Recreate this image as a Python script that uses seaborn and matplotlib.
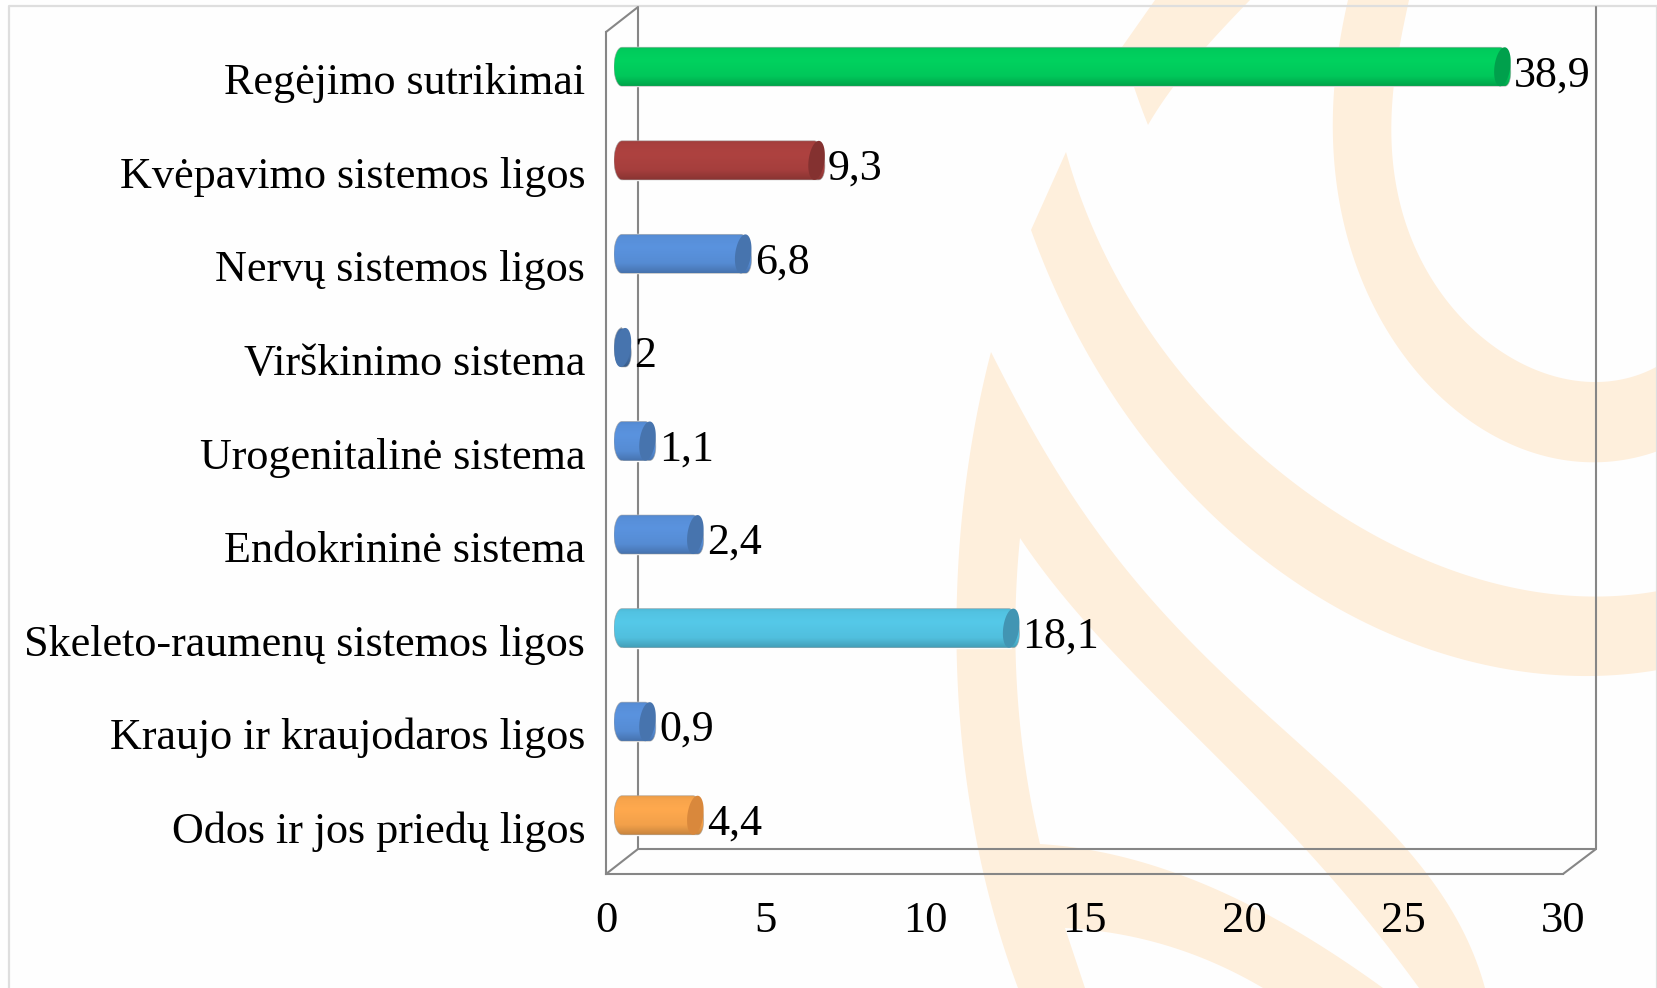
"""Horizontal cylinder-style bars over a pale watermark (Lithuanian categories)."""
import numpy as np
import pandas as pd
import matplotlib
matplotlib.use('Agg')
import matplotlib.pyplot as plt
import seaborn as sns
from matplotlib.patches import Polygon

# bar lengths as drawn on the axis, printed labels as they stand in the picture
categories = ['Regėjimo sutrikimai', 'Kvėpavimo sistemos ligos', 'Nervų sistemos ligos',
              'Virškinimo sistema', 'Urogenitalinė sistema', 'Endokrininė sistema',
              'Skeleto-raumenų sistemos ligos', 'Kraujo ir kraujodaros ligos',
              'Odos ir jos priedų ligos']
bar_lengths = [28.1, 6.6, 4.3, 0.53, 1.3, 2.8, 12.7, 1.3, 2.8]
value_labels = ['38,9', '9,3', '6,8', '2', '1,1', '2,4', '18,1', '0,9', '4,4']
x_ticks = [0, 5, 10, 15, 20, 25, 30]

bar_colors = ['#00D25F', '#AE4240', '#5A93DF', '#4774AE', '#5A93DF', '#5A93DF',
              '#55C9E9', '#5A93DF', '#FFA94E']
cap_colors = ['#00A04C', '#843130', '#4774AE', '#4774AE', '#4774AE', '#4774AE',
              '#4295B3', '#4774AE', '#D9883C']

W, H = 1658, 988
GRAY = '#868686'
PEACH = '#FEEFDC'
BAR_W = 0.417
CAP_R = 0.25
TILT = 0.07

sns.set_theme(style='white')
plt.rcParams['font.family'] = ['Liberation Serif', 'DejaVu Serif']
plt.rcParams['axes.unicode_minus'] = False


def px_axes(fig, left, top, right, bottom, **kw):
    return fig.add_axes([left / W, 1 - bottom / H, (right - left) / W, (bottom - top) / H], **kw)


def smooth(pts, n=120):
    # low order curve near the given points, for the watermark outlines
    p = np.array(pts, dtype=float)
    if len(p) == 2:
        return p
    s = np.r_[0, np.cumsum(np.hypot(*np.diff(p, axis=0).T))]
    s = s / s[-1]
    deg = min(len(p) - 1, 4)
    w = np.ones(len(p))
    w[[0, -1]] = 6
    u = np.linspace(0, 1, n)
    return np.c_[np.polyval(np.polyfit(s, p[:, 0], deg, w=w), u),
                 np.polyval(np.polyfit(s, p[:, 1], deg, w=w), u)]


fig = plt.figure(figsize=(W / 100, H / 100), dpi=100, facecolor='#FEFEFE')

# ---- watermark and back wall, in pixel coordinates
bg = px_axes(fig, 0, 0, W, H, zorder=0)
bg.set_xlim(0, W)
bg.set_ylim(H, 0)
bg.axis('off')

ring = np.vstack([
    smooth([(1348, 0), (1331, 120), (1361, 268), (1441, 402), (1596, 461), (1658, 451)]),
    smooth([(1658, 366), (1596, 382), (1483, 339), (1415, 245), (1391, 120), (1409, 0)]),
])
band = np.vstack([
    smooth([(1066, 152), (1168, 357), (1294, 482), (1441, 567), (1596, 596), (1658, 591)]),
    smooth([(1658, 670), (1596, 675), (1420, 647), (1252, 549), (1126, 415), (1031, 230)]),
])
wedge = np.vstack([
    smooth([(1155, 0), (1122, 47)]),
    smooth([(1122, 47), (1134, 87), (1148, 125)]),
    smooth([(1148, 125), (1174, 86), (1206, 47), (1250, 0)]),
])
swoosh = np.vstack([
    smooth([(991, 352), (1094, 527), (1227, 678), (1361, 800), (1428, 876), (1485, 988)]),
    smooth([(1419, 988), (1383, 938), (1316, 863), (1227, 766), (1094, 632), (1020, 538)]),
    smooth([(1020, 538), (1016, 666), (1025, 765), (1040, 844)]),
    smooth([(1040, 844), (1138, 861), (1272, 917), (1383, 988)]),
    smooth([(1263, 988), (1138, 938), (1065, 928)]),
    smooth([(1065, 928), (1085, 988)]),
    smooth([(1018, 988), (978, 846), (962, 750), (957, 640), (960, 540), (972, 440), (991, 352)]),
])
for shape in (ring, band, wedge, swoosh):
    bg.add_patch(Polygon(shape, closed=True, fc=PEACH, ec='none'))

# picture border
bg.plot([9, 9, W - 1], [H, 6, 6], color='#DEDEDE', lw=1.6)
bg.plot([W - 1, W - 1], [6, H], color='#DEDEDE', lw=1.6)

# back wall of the box
bg.plot([606, 638, 638], [32, 7, 849], color=GRAY, lw=1.5)
bg.plot([606, 638, 1596, 1596], [874, 849, 849, 7], color=GRAY, lw=1.5)
bg.plot([1563, 1596], [874, 849], color=GRAY, lw=1.5)

# ---- front frame: carries the ticks and the category labels
frame = px_axes(fig, 606, 32, 1563, 874, zorder=1)
frame.patch.set_alpha(0)
frame.set_xlim(0, 30)
frame.set_ylim(len(categories) - 0.5, -0.5)
frame.set_xticks(x_ticks)
frame.set_yticks(range(len(categories)))
frame.set_yticklabels(categories)
frame.tick_params(axis='x', length=0, pad=19.5, labelsize=32, colors='black')
frame.tick_params(axis='y', length=0, pad=15, labelsize=31.8, colors='black')
for side in ('top', 'right'):
    frame.spines[side].set_visible(False)
for side in ('left', 'bottom'):
    frame.spines[side].set_color(GRAY)
    frame.spines[side].set_linewidth(1.5)

# ---- bars: same scale, shifted by the depth offset of the box
ax = px_axes(fig, 614, 20, 1571, 862, zorder=2)
ax.patch.set_alpha(0)
df = pd.DataFrame({'category': categories, 'value': bar_lengths})
sns.barplot(data=df, x='value', y='category', hue='category', orient='h',
            palette=dict(zip(categories, bar_colors)), width=BAR_W, legend=False,
            saturation=1, ax=ax)
ax.set_xlim(0, 30)
ylim = ax.get_ylim()

shade_y = np.linspace(0, 1, 60)
shade = np.interp(shade_y, [0, 0.1, 0.35, 0.75, 0.92, 1], [0.92, 0.97, 1.0, 0.95, 0.84, 0.78])

for patch in list(ax.patches):
    i = int(round(patch.get_y() + patch.get_height() / 2))
    val = bar_lengths[i]
    patch.set_x(CAP_R)
    patch.set_width(max(val - 2 * CAP_R, 0))

    # outline: half ellipses at both ends, the far one leaning a little
    th = np.linspace(np.pi / 2, 3 * np.pi / 2, 40)
    left = np.c_[CAP_R + CAP_R * np.cos(th), i + BAR_W / 2 * np.sin(th)]
    right = np.c_[val - CAP_R - CAP_R * np.cos(th) - TILT * np.sin(th),
                  i - BAR_W / 2 * np.sin(th)]
    outline = Polygon(np.vstack([left, right]), closed=True, fc='none',
                      ec='#9A9A9A', lw=0.6, alpha=0.6, transform=ax.transData, zorder=4)
    ax.add_patch(outline)

    base = np.array(matplotlib.colors.to_rgb(bar_colors[i]))
    img = np.clip(shade[:, None] * base, 0, 1)[:, None, :]
    im = ax.imshow(img, extent=(0, val + TILT, i + BAR_W / 2, i - BAR_W / 2), aspect='auto',
                   origin='upper', interpolation='bilinear', zorder=3)
    im.set_clip_path(outline)

    # end cap of the cylinder
    t = np.linspace(0, 2 * np.pi, 80)
    cap = np.c_[val - CAP_R + CAP_R * np.cos(t) + TILT * np.sin(t),
                i - BAR_W / 2 * np.sin(t)]
    ax.add_patch(Polygon(cap, closed=True, fc=cap_colors[i], ec='none', zorder=5))
    ax.annotate(value_labels[i], (val, i), xytext=(2.5, -6), textcoords='offset points',
                ha='left', va='center', fontsize=31.7, color='black', zorder=6)

ax.set_xlim(0, 30)
ax.set_ylim(ylim)
ax.axis('off')

fig.savefig('out.png', dpi=100, facecolor=fig.get_facecolor())
